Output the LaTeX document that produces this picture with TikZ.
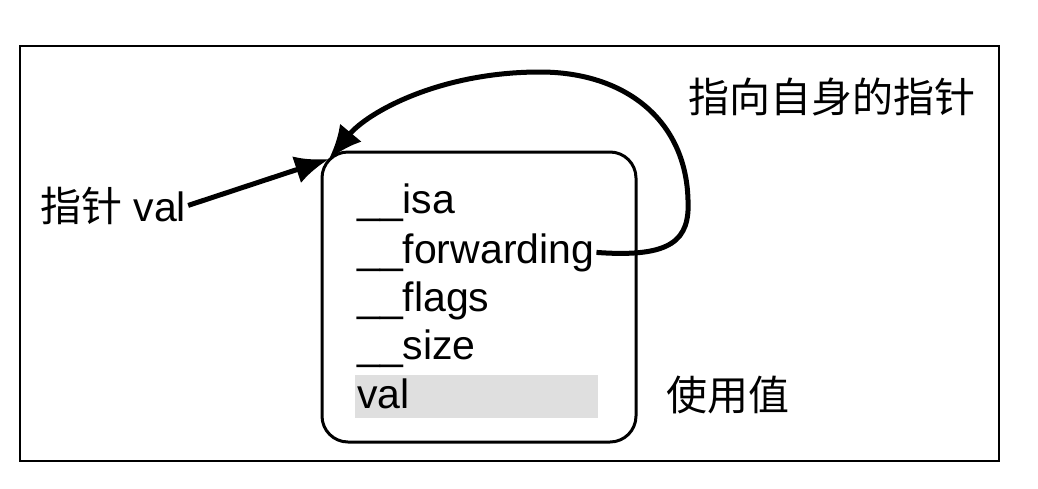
\documentclass[tikz,border=0pt]{standalone}
\usepackage{fontspec}
\setmainfont{Liberation Sans}
\newfontfamily\cjk{Noto Sans CJK SC}
\usepackage{tikz}
\usetikzlibrary{arrows.meta, positioning}

\begin{document}
\begin{tikzpicture}[x=1pt, y=-1pt,
    field/.style={anchor=base west, inner sep=2pt, font=\fontsize{41}{48}\selectfont},
    lbl/.style={anchor=base west, inner sep=2pt, font=\fontsize{41}{48}\selectfont},
    ptrarrow/.style={black, line width=5pt, -{Latex[length=34pt, width=28pt]}}]
  \useasboundingbox (0, 0) rectangle (1038, 488);
  \draw[black, line width=2pt] (20, 46) rectangle (999, 461);
  % the block structure
  \node[draw=black, line width=3pt, rounded corners=26pt, minimum width=314pt, minimum height=290pt, inner sep=0pt] (box) at (479, 297) {};
  \fill[gray!25] (355, 375) rectangle (598, 418);
  \node[field] (isa) at (355, 213) {\_\_isa};
  \node[field] (fwd) at (355, 263) {\_\_forwarding};
  \node[field] (flags) at (355, 311) {\_\_flags};
  \node[field] (size) at (355, 359) {\_\_size};
  \node[field] (val) at (355, 408) {val};
  % labels
  \node[lbl] (ptr) at (38, 221) {{\cjk 指针} val};
  \node[lbl] (selfptr) at (686, 112) {\cjk 指向自身的指针};
  \node[lbl] (useval) at (664, 410) {\cjk 使用值};
  \coordinate (tip) at (329, 159);
  % pointers
  \draw[ptrarrow] (ptr.east) -- (tip);
  \draw[ptrarrow] (fwd.east) .. controls (672, 258) and (690, 240) .. (688, 200)
    .. controls (686, 120) and (625, 72) .. (540, 72)
    .. controls (440, 72) and (368, 112) .. (tip);
\end{tikzpicture}
\end{document}
